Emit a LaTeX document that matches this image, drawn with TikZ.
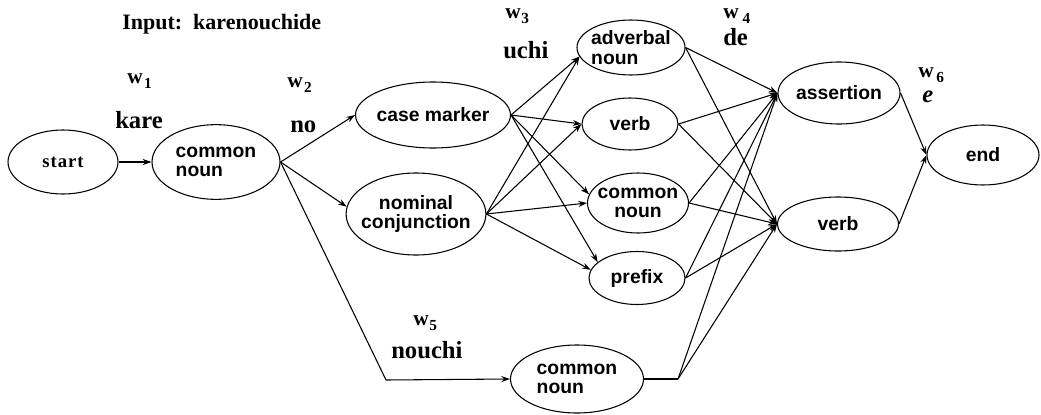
\documentclass[tikz,border=0pt]{standalone}
\usepackage{fontspec}
\setmainfont{Liberation Serif}
\newfontfamily\nodefont{Liberation Sans}
\newfontfamily\startfont[LetterSpace=5]{Liberation Serif}
\usetikzlibrary{shapes.geometric,arrows.meta}
\newcommand{\wsub}[2]{w\kern#1\raisebox{-4pt}{\fontsize{11.5pt}{12pt}\selectfont #2}}
\begin{document}
\begin{tikzpicture}[x=0.75pt,y=-0.75pt,
  nd/.style={draw, ellipse, inner sep=-4pt, line width=0.8pt,
    font=\nodefont\bfseries\fontsize{14.5pt}{14.5pt}\selectfont, align=center},
  arr/.style={-{Stealth[length=6.5pt,width=4.5pt]}, line width=0.8pt},
  ln/.style={line width=0.8pt},
  word/.style={font=\bfseries\fontsize{18.5pt}{20pt}\selectfont, inner sep=0pt, anchor=base west},
  wl/.style={font=\bfseries\fontsize{16pt}{18pt}\selectfont, inner sep=0pt, anchor=base west}]
\useasboundingbox (0,0) rectangle (1041,414);

% title and word labels
\node[word, font=\bfseries\fontsize{16.5pt}{18pt}\selectfont] (title) at (122,29) {Input:\ \ karenouchide};
\node[wl] (w1) at (127,83) {\wsub{1pt}{1}};
\node[word] (kare) at (115,128) {kare};
\node[wl] (w2) at (287,87) {\wsub{1pt}{2}};
\node[word] (no) at (290,132) {no};
\node[wl] (w3) at (505,18) {\wsub{0.5pt}{3}};
\node[word] (uchi) at (503,58) {uchi};
\node[wl] (w4) at (723,18) {\wsub{3pt}{4}};
\node[word] (de) at (723,45) {de};
\node[wl] (w6) at (918,77) {\wsub{2pt}{6}};
\node[word, font=\bfseries\itshape\fontsize{18.5pt}{20pt}\selectfont] (e) at (922,102) {e};
\node[wl] (w5) at (413,325) {\wsub{0.5pt}{5}};
\node[word] (nouchi) at (391,358) {nouchi};

% nodes
\node[nd, minimum width=82.5pt, minimum height=48pt,
  font=\startfont\bfseries\fontsize{14pt}{14pt}\selectfont] (start) at (63,162) {start};
\node[nd, align=left, minimum width=96pt, minimum height=56pt] (cn1) at (216,162) {common\\noun};
\node[nd, minimum width=116.25pt, minimum height=49.5pt] (case) at (433,115) {case marker};
\node[nd, minimum width=100.5pt, minimum height=61.5pt] (nom) at (416,214) {nominal\\conjunction};
\node[nd, align=left, minimum width=81pt, minimum height=41.25pt] (adv) at (631,47.5) {adverbal\\noun};
\node[nd, minimum width=72pt, minimum height=39pt] (verbm) at (630,124) {verb};
\node[nd, minimum width=75.75pt, minimum height=45pt] (cnm) at (638,203) {common\\noun};
\node[nd, minimum width=72pt, minimum height=39.75pt] (prefix) at (637,278) {prefix};
\node[nd, align=left, minimum width=99.75pt, minimum height=51pt] (cnb) at (577,379) {common\\noun};
\node[nd, minimum width=91.5pt, minimum height=46.5pt] (assert) at (839,93) {assertion};
\node[nd, minimum width=90.75pt, minimum height=40.5pt] (verbr) at (838,224) {verb};
\node[nd, minimum width=84pt, minimum height=45pt] (end) at (983,155) {end};

\coordinate (c1) at (386,380);
\coordinate (c2) at (678,379);

% connectors
\draw[arr] (start.east) -- (cn1.west);
\draw[arr] (cn1.east) -- (case.west);
\draw[arr] (cn1.east) -- (nom.174);
\draw[arr] (cn1.east) -- (c1) -- (cnb.west);

\draw[arr] (case.east) -- (adv.190);
\draw[arr] (case.east) -- (verbm.west);
\draw[arr] (case.east) -- (cnm.170);
\draw[arr] (case.east) -- (prefix.158);
\draw[arr] (nom.east) -- (adv.190);
\draw[arr] (nom.east) -- (verbm.west);
\draw[arr] (nom.east) -- (cnm.west);
\draw[arr] (nom.east) -- (prefix.170);

\draw[arr] (adv.east) -- (assert.west);
\draw[arr] (adv.east) -- (verbr.west);
\draw[arr] (verbm.east) -- (assert.west);
\draw[arr] (verbm.east) -- (verbr.west);
\draw[arr] (cnm.east) -- (assert.west);
\draw[arr] (cnm.east) -- (verbr.west);
\draw[arr] (prefix.east) -- (assert.west);
\draw[arr] (prefix.east) -- (verbr.west);
\draw[ln] (cnb.east) -- (c2);
\draw[arr] (c2) -- (assert.west);
\draw[arr] (c2) -- (verbr.west);

\draw[arr] (assert.east) -- (end.west);
\draw[arr] (verbr.east) -- (end.west);
\end{tikzpicture}
\end{document}
